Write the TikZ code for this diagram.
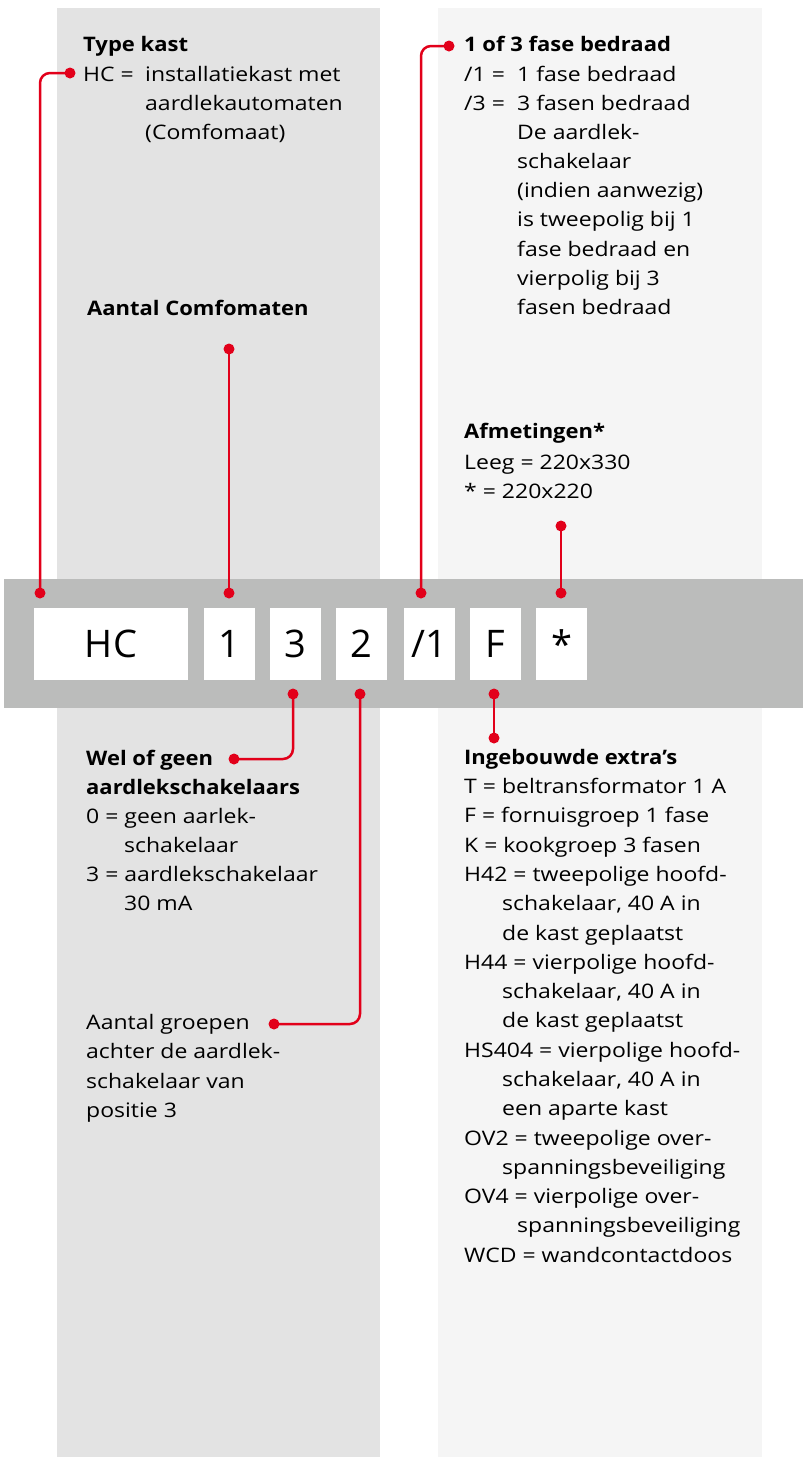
\documentclass[tikz,border=0pt]{standalone}
\usepackage{fontspec}
\setmainfont{Open Sans}[FakeStretch=1.15, BoldFeatures={FakeStretch=1.1}]
\newfontfamily\boxfont{Open Sans}
\definecolor{abbred}{HTML}{E2001A}
\definecolor{bandgray}{HTML}{BBBCBB}
\definecolor{lpanel}{HTML}{E3E3E3}
\definecolor{rpanel}{HTML}{F5F5F5}
\tikzset{
  txt/.style={anchor=base west, inner sep=0pt, font=\fontsize{20}{24}\selectfont},
  btxt/.style={anchor=base west, inner sep=0pt, font=\fontsize{20}{24}\selectfont\bfseries},
  codebox/.style={fill=white, minimum height=72pt, minimum width=51pt, inner sep=0pt, font=\boxfont\fontsize{38}{46}\selectfont},
  conn/.style={abbred, line width=2.5pt, rounded corners=10pt},
  reddot/.style={circle, fill=abbred, inner sep=0pt, minimum size=11pt}
}
\begin{document}
\begin{tikzpicture}[x=1pt,y=-1pt]
\useasboundingbox (0,0) rectangle (803,1457);
% panels
\fill[lpanel] (57,8) rectangle (380,1457);
\fill[rpanel] (438,8) rectangle (762,1457);
\fill[bandgray] (4,579) rectangle (803,708);
% code boxes
\node[codebox, minimum width=154pt] (bHC) at (111,644) {HC};
\node[codebox] (b1) at (229.5,644) {1};
\node[codebox] (b3) at (295.5,644) {3};
\node[codebox] (b2) at (361.5,644) {2};
\node[codebox] (bF1) at (429.5,644) {/1};
\node[codebox] (bF) at (495.5,644) {F};
\node[codebox] (bS) at (561.5,644) {*};
% dots
\node[reddot] (pHC) at (40,593) {};
\node[reddot] (lHC) at (70,73) {};
\node[reddot] (p1) at (229,593) {};
\node[reddot] (l1) at (229,349) {};
\node[reddot] (pF1) at (421,593) {};
\node[reddot] (lF1) at (449,46) {};
\node[reddot] (pS) at (561,593) {};
\node[reddot] (lS) at (561,526) {};
\node[reddot] (p3) at (293,694) {};
\node[reddot] (l3) at (234,759) {};
\node[reddot] (p2) at (360,694) {};
\node[reddot] (l2) at (274,1024) {};
\node[reddot] (pF) at (494,694) {};
\node[reddot] (lF) at (494,738) {};
% connectors
\draw[conn] (pHC.center) |- (lHC.center);
\draw[conn] (p1.center) -- (l1.center);
\draw[conn] (pF1.center) |- (lF1.center);
\draw[conn] (pS.center) -- (lS.center);
\draw[conn] (p3.center) |- (l3.center);
\draw[conn] (p2.center) |- (l2.center);
\draw[conn] (pF.center) -- (lF.center);
% Type kast
\node[btxt] (t1) at (83,51) {Type kast};
\node[txt] (t2) at (83,81) {HC =};
\node[txt] (t3) at (145,81) {installatiekast met};
\node[txt] (t4) at (145,110) {aardlekautomaten};
\node[txt] (t5) at (145,139) {(Comfomaat)};
% Aantal Comfomaten
\node[btxt] (ac) at (87,315) {Aantal Comfomaten};
% 1 of 3 fase
\node[btxt] (f1) at (464,51) {1 of 3 fase bedraad};
\node[txt] (f2) at (464,81) {/1 =};
\node[txt] (f3) at (517,81) {1 fase bedraad};
\node[txt] (f4) at (464,110) {/3 =};
\node[txt] (f5) at (517,110) {3 fasen bedraad};
\node[txt] (f6) at (517,139) {De aardlek-};
\node[txt] (f7) at (517,168) {schakelaar};
\node[txt] (f8) at (517,197) {(indien aanwezig)};
\node[txt] (f9) at (517,226) {is tweepolig bij 1};
\node[txt] (f10) at (517,256) {fase bedraad en};
\node[txt] (f11) at (517,285) {vierpolig bij 3};
\node[txt] (f12) at (517,314) {fasen bedraad};
% Afmetingen
\node[btxt] (a1) at (464,438) {Afmetingen*};
\node[txt] (a2) at (464,469) {Leeg = 220x330};
\node[txt] (a3) at (464,498) {* = 220x220};
% Wel of geen
\node[btxt] (w1) at (86,765) {Wel of geen};
\node[btxt] (w2) at (86,794) {aardlekschakelaars};
\node[txt] (w3) at (86,823) {0 = geen aarlek-};
\node[txt] (w4) at (124,852) {schakelaar};
\node[txt] (w5) at (86,881) {3 = aardlekschakelaar};
\node[txt] (w6) at (124,910) {30 mA};
% Aantal groepen
\node[txt] (g1) at (86,1029) {Aantal groepen};
\node[txt] (g2) at (86,1058) {achter de aardlek-};
\node[txt] (g3) at (86,1088) {schakelaar van};
\node[txt] (g4) at (86,1117) {positie 3};
% Ingebouwde extra's
\node[btxt] (i1) at (464,764) {Ingebouwde extra’s};
\node[txt] (i2) at (464,793) {T = beltransformator 1 A};
\node[txt] (i3) at (464,822) {F = fornuisgroep 1 fase};
\node[txt] (i4) at (464,852) {K = kookgroep 3 fasen};
\node[txt] (i5) at (464,881) {H42 = tweepolige hoofd-};
\node[txt] (i6) at (502,910) {schakelaar, 40 A in};
\node[txt] (i7) at (502,940) {de kast geplaatst};
\node[txt] (i8) at (464,969) {H44 = vierpolige hoofd-};
\node[txt] (i9) at (502,998) {schakelaar, 40 A in};
\node[txt] (i10) at (502,1027) {de kast geplaatst};
\node[txt] (i11) at (464,1057) {HS404 = vierpolige hoofd-};
\node[txt] (i12) at (502,1086) {schakelaar, 40 A in};
\node[txt] (i13) at (502,1115) {een aparte kast};
\node[txt] (i14) at (464,1145) {OV2 = tweepolige over-};
\node[txt] (i15) at (502,1174) {spanningsbeveiliging};
\node[txt] (i16) at (464,1203) {OV4 = vierpolige over-};
\node[txt] (i17) at (517,1232) {spanningsbeveiliging};
\node[txt] (i18) at (464,1262) {WCD = wandcontactdoos};
\end{tikzpicture}
\end{document}
